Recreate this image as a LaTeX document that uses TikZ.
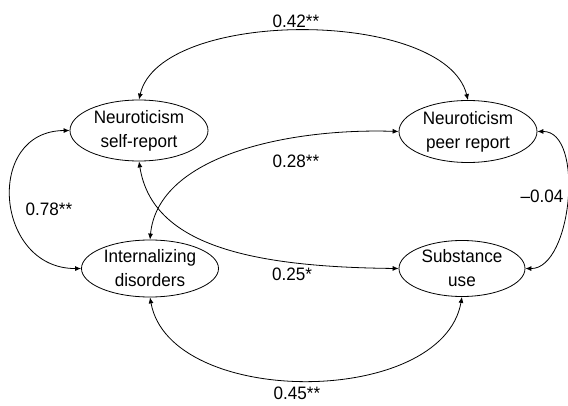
\documentclass[tikz,border=0pt]{standalone}
\usepackage{fontspec}
\setmainfont[FakeStretch=0.95]{Liberation Sans}
\usetikzlibrary{shapes.geometric,arrows.meta}
\tikzset{
  var/.style={ellipse, draw, line width=0.8pt, inner sep=0pt, align=center,
    font=\fontsize{18}{24}\selectfont},
  lab/.style={font=\fontsize{18}{22}\selectfont, inner sep=0pt},
  cov/.style={line width=0.8pt, {Latex[length=6pt,width=5pt]}-{Latex[length=6pt,width=5pt]}}
}
\begin{document}
\begin{tikzpicture}[x=1pt,y=1pt]
\useasboundingbox (0,0) rectangle (568,405);
\node[var, minimum width=138pt, minimum height=61pt] (self) at (139,274.5) {Neuroticism\\self-report};
\node[var, minimum width=138pt, minimum height=62pt] (peer) at (468,273.5) {Neuroticism\\peer report};
\node[var, minimum width=137pt, minimum height=57pt] (int) at (150,136.5) {Internalizing\\disorders};
\node[var, minimum width=126pt, minimum height=56pt] (sub) at (462,136.5) {Substance\\use};

\draw[cov] (self.north) .. controls (160,397) and (445,397) .. (peer.north);
\draw[cov] (int.south) .. controls (170,-3) and (442,-3) .. (sub.south);
\draw[cov] (self.west) .. controls (-16,274) and (-5,136) .. (int.west);
\draw[cov] (peer.east) .. controls (585,274) and (572,136) .. (sub.east);
\draw[cov] (peer.west) .. controls (290,277) and (158,250) .. (int.north);
\draw[cov] (self.south) .. controls (152,160) and (250,138) .. (sub.west);

\node[lab] (l1) at (296,384) {0.42**};
\node[lab] (l2) at (297,12) {0.45**};
\node[lab] (l3) at (49,196) {0.78**};
\node[lab] (l4) at (542,209) {–0.04};
\node[lab] (l5) at (296,244) {0.28**};
\node[lab] (l6) at (292,131) {0.25*};
\end{tikzpicture}
\end{document}
